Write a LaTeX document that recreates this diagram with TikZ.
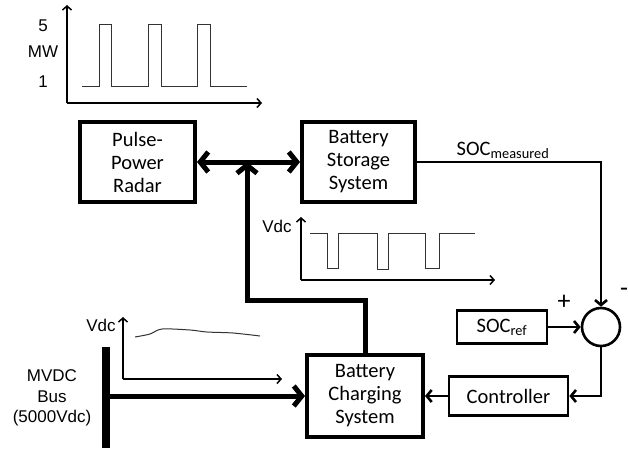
\documentclass[tikz,border=0pt]{standalone}
\usepackage{fontspec}
\setmainfont{Carlito}
\newfontfamily\plotfont{Liberation Sans}
\usepackage{tikz}
\usetikzlibrary{positioning,arrows.meta}
\definecolor{LineDark}{HTML}{000000}
\definecolor{TraceGray}{HTML}{333333}
\newcommand{\plotsize}{\plotfont\fontsize{17pt}{20.5pt}\selectfont}

\tikzset{
  blockbox/.style={draw=LineDark, line width=4pt, align=center, inner sep=0pt,
                   font=\fontsize{20.5pt}{23pt}\selectfont},
  ctrlbox/.style={draw=LineDark, line width=2.6pt, align=center, inner sep=0pt,
                  font=\fontsize{20.5pt}{23pt}\selectfont},
  powerline/.style={line width=5pt, -{Straight Barb[length=8pt,width=20pt]}},
  signalline/.style={line width=2.6pt, -{Straight Barb[length=5pt,width=12pt]}},
  axisline/.style={line width=1.5pt, -{Straight Barb[length=4pt,width=9pt]}},
  trace/.style={line width=1pt, TraceGray},
  plotlabel/.style={inner sep=0pt, align=center, font=\plotsize}
}

\begin{document}
\begin{tikzpicture}[x=1pt, y=-1pt]
  \useasboundingbox (0,0) rectangle (628,450);

  % blocks
  \node[blockbox, minimum width=115pt, minimum height=80pt] (radar) at (137.5,162) {Pulse-\\Power\\Radar};
  \node[blockbox, minimum width=113pt, minimum height=80pt] (storage) at (358.5,162) {Battery\\Storage\\System};
  \node[blockbox, minimum width=116pt, minimum height=82pt] (charger) at (365,396) {Battery\\Charging\\System};
  \node[ctrlbox, minimum width=90pt, minimum height=33pt] (socref) at (502,327) {SOC\textsubscript{ref}};
  \node[ctrlbox, minimum width=119pt, minimum height=39pt] (controller) at (508.5,396) {Controller};
  \node[draw, circle, line width=2.6pt, minimum size=38pt, inner sep=0pt] (sum) at (601,327) {};

  \node[font=\fontsize{20.5pt}{23pt}\selectfont] (socmeas) at (503,150) {SOC\textsubscript{measured}};
  \node[font=\fontsize{26pt}{28pt}\selectfont] (plus) at (564,302) {+};
  \node[font=\fontsize{26pt}{28pt}\selectfont] (minus) at (624,292) {-};

  % power path
  \coordinate (tee) at (247,162);
  \coordinate (bend) at (247,300);
  \draw[powerline, {Straight Barb[length=8pt,width=20pt]}-{Straight Barb[length=8pt,width=20pt]}] (radar) -- (storage);
  \draw[powerline] (charger.north) |- (bend) -- (tee);

  \coordinate (busTop) at (106,347);
  \coordinate (busBot) at (106,448);
  \coordinate (busTap) at (106,396);
  \draw[line width=8pt] (busTop) -- (busBot);
  \draw[powerline] (busTap) -- (charger.west);
  \node[plotlabel] (bus) at (52,398) {MVDC\\Bus\\(5000Vdc)};

  % control loop
  \draw[signalline] (storage.east) -| (sum.north);
  \draw[signalline] (socref) -- (sum);
  \draw[signalline] (sum.south) |- (controller.east);
  \draw[signalline] (controller) -- (charger);

  % radar load profile
  \draw[axisline] (67,103) -- (67,5);
  \draw[axisline] (67,103) -- (262,103);
  \draw[trace] (82,86) -- (99,86) -- (99,24) -- (111,24) -- (111,86) -- (148,86) -- (148,24) -- (161,24)
    -- (161,86) -- (197,86) -- (197,24) -- (210,24) -- (210,86) -- (247,86);
  \node[plotlabel] (five) at (43,26) {5};
  \node[plotlabel] (mw) at (43,52) {MW};
  \node[plotlabel] (one) at (43,82) {1};

  % storage voltage profile
  \draw[axisline] (301,280) -- (301,217);
  \draw[axisline] (301,280) -- (495,280);
  \draw[trace] (310,233) -- (327,233) -- (327,268) -- (338,268) -- (338,233) -- (377,233) -- (377,269)
    -- (388,269) -- (388,233) -- (425,233) -- (425,268) -- (439,268) -- (439,233) -- (475,233);
  \node[plotlabel] (vdcmid) at (277,226) {Vdc};

  % bus voltage profile
  \draw[axisline] (123,379) -- (123,317);
  \draw[axisline] (123,379) -- (282,379);
  \draw[trace] plot[smooth] coordinates {(135,337) (150,334) (162,329) (190,330) (207,332) (233,333) (260,336)};
  \node[plotlabel] (vdcbus) at (101,325) {Vdc};
\end{tikzpicture}
\end{document}
